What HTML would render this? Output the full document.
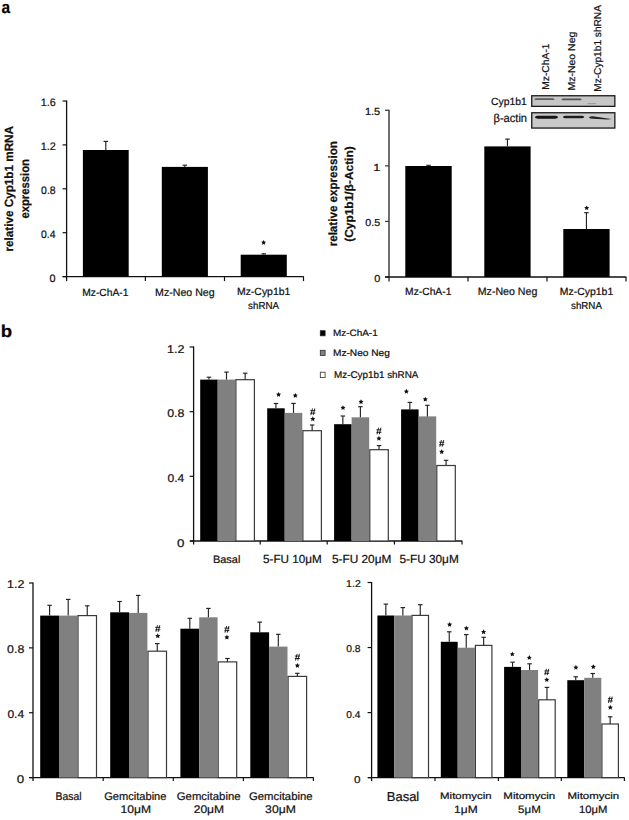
<!DOCTYPE html>
<html><head><meta charset="utf-8"><title>Figure</title>
<style>
html,body{margin:0;padding:0;background:#fff;}
body{width:629px;height:820px;overflow:hidden;}
svg{display:block;font-family:"Liberation Sans", sans-serif;}
text{stroke:#111;stroke-width:0.22px;text-rendering:geometricPrecision;}
</style></head>
<body>
<svg width="629" height="820" viewBox="0 0 629 820">
<defs><filter id="blur1" x="-20%" y="-50%" width="140%" height="200%"><feGaussianBlur stdDeviation="0.6"/></filter></defs>
<rect width="629" height="820" fill="#fff"/>
<text x="1.53" y="12.7" font-size="17.2" font-weight="bold" textLength="8.63" lengthAdjust="spacingAndGlyphs" fill="#000">a</text>
<text x="0.69" y="336.6" font-size="17.2" font-weight="bold" textLength="11.37" lengthAdjust="spacingAndGlyphs" fill="#000">b</text>
<g>
<line x1="66.6" y1="100.5" x2="66.6" y2="281.1" stroke="#111" stroke-width="1.3"/>
<line x1="62.6" y1="101" x2="66.6" y2="101" stroke="#111" stroke-width="1.2"/>
<line x1="62.6" y1="144.9" x2="66.6" y2="144.9" stroke="#111" stroke-width="1.2"/>
<line x1="62.6" y1="188.8" x2="66.6" y2="188.8" stroke="#111" stroke-width="1.2"/>
<line x1="62.6" y1="232.7" x2="66.6" y2="232.7" stroke="#111" stroke-width="1.2"/>
<line x1="62.6" y1="276.6" x2="66.6" y2="276.6" stroke="#111" stroke-width="1.2"/>
<line x1="62.6" y1="276.6" x2="303.8" y2="276.6" stroke="#111" stroke-width="1.3"/>
<line x1="145.4" y1="276.6" x2="145.4" y2="281.1" stroke="#111" stroke-width="1.2"/>
<line x1="224.5" y1="276.6" x2="224.5" y2="281.1" stroke="#111" stroke-width="1.2"/>
<line x1="303.5" y1="276.6" x2="303.5" y2="281.1" stroke="#111" stroke-width="1.2"/>
<rect x="82.9" y="150" width="45.8" height="126.6" fill="#000"/>
<line x1="105.8" y1="141.4" x2="105.8" y2="150" stroke="#222" stroke-width="1.15"/>
<line x1="103.55" y1="141.4" x2="108.05" y2="141.4" stroke="#222" stroke-width="1.15"/>
<rect x="161.8" y="166.9" width="46.1" height="109.7" fill="#000"/>
<line x1="184.85" y1="165.2" x2="184.85" y2="166.9" stroke="#222" stroke-width="1.15"/>
<line x1="182.6" y1="165.2" x2="187.1" y2="165.2" stroke="#222" stroke-width="1.15"/>
<rect x="240.7" y="254.7" width="46.1" height="21.9" fill="#000"/>
<line x1="263.75" y1="253.8" x2="263.75" y2="254.7" stroke="#222" stroke-width="1.15"/>
<line x1="261.5" y1="253.8" x2="266" y2="253.8" stroke="#222" stroke-width="1.15"/>
<polygon points="263.6,240 264.36,241.55 266.07,241.8 264.84,243 265.13,244.7 263.6,243.9 262.07,244.7 262.36,243 261.13,241.8 262.84,241.55" fill="#111"/>
<text x="40.69" y="106" font-size="10.9" font-weight="normal" textLength="14.94" lengthAdjust="spacingAndGlyphs" fill="#111">1.6</text>
<text x="40.69" y="149.9" font-size="10.9" font-weight="normal" textLength="15.06" lengthAdjust="spacingAndGlyphs" fill="#111">1.2</text>
<text x="41.08" y="193.8" font-size="10.9" font-weight="normal" textLength="14.54" lengthAdjust="spacingAndGlyphs" fill="#111">0.8</text>
<text x="41.08" y="237.7" font-size="10.9" font-weight="normal" textLength="14.43" lengthAdjust="spacingAndGlyphs" fill="#111">0.4</text>
<text x="49.57" y="281.6" font-size="10.9" font-weight="normal" textLength="6.03" lengthAdjust="spacingAndGlyphs" fill="#111">0</text>
<text x="82.18" y="295.5" font-size="10.38" font-weight="normal" textLength="46.29" lengthAdjust="spacingAndGlyphs" fill="#111">Mz-ChA-1</text>
<text x="155.05" y="295.7" font-size="10.91" font-weight="normal" textLength="59.57" lengthAdjust="spacingAndGlyphs" fill="#111">Mz-Neo Neg</text>
<text x="236.97" y="295.4" font-size="10.38" font-weight="normal" textLength="53.33" lengthAdjust="spacingAndGlyphs" fill="#111">Mz-Cyp1b1</text>
<text x="248.11" y="309.2" font-size="10.09" font-weight="normal" textLength="30.92" lengthAdjust="spacingAndGlyphs" fill="#111">shRNA</text>
<text transform="translate(12.8,250.7) rotate(-90)" x="-0.76" y="0" font-size="12" font-weight="bold" textLength="125.47" lengthAdjust="spacingAndGlyphs" fill="#111">relative Cyp1b1 mRNA</text>
<text transform="translate(29,218.1) rotate(-90)" x="-0.45" y="0" font-size="12.2" font-weight="bold" textLength="59.43" lengthAdjust="spacingAndGlyphs" fill="#111">expression</text>
</g>
<line x1="389" y1="109.8" x2="389" y2="281.5" stroke="#333" stroke-width="1.4"/>
<line x1="385" y1="110.3" x2="389" y2="110.3" stroke="#333" stroke-width="1.2"/>
<line x1="385" y1="165.87" x2="389" y2="165.87" stroke="#333" stroke-width="1.2"/>
<line x1="385" y1="221.43" x2="389" y2="221.43" stroke="#333" stroke-width="1.2"/>
<line x1="385" y1="277" x2="389" y2="277" stroke="#333" stroke-width="1.2"/>
<line x1="385" y1="277" x2="626.3" y2="277" stroke="#111" stroke-width="1.3"/>
<line x1="468" y1="277" x2="468" y2="281.5" stroke="#111" stroke-width="1.2"/>
<line x1="547" y1="277" x2="547" y2="281.5" stroke="#111" stroke-width="1.2"/>
<line x1="626" y1="277" x2="626" y2="281.5" stroke="#111" stroke-width="1.2"/>
<rect x="405.3" y="166" width="46.4" height="111" fill="#000"/>
<line x1="428.5" y1="165.3" x2="428.5" y2="166" stroke="#222" stroke-width="1.15"/>
<line x1="426.25" y1="165.3" x2="430.75" y2="165.3" stroke="#222" stroke-width="1.15"/>
<rect x="484.3" y="146.4" width="46.3" height="130.6" fill="#000"/>
<line x1="507.45" y1="139.1" x2="507.45" y2="146.4" stroke="#222" stroke-width="1.15"/>
<line x1="505.2" y1="139.1" x2="509.7" y2="139.1" stroke="#222" stroke-width="1.15"/>
<rect x="563.3" y="229" width="46.3" height="48" fill="#000"/>
<line x1="586.45" y1="212.7" x2="586.45" y2="229" stroke="#222" stroke-width="1.15"/>
<line x1="584.2" y1="212.7" x2="588.7" y2="212.7" stroke="#222" stroke-width="1.15"/>
<polygon points="586.7,205.4 587.46,206.95 589.17,207.2 587.94,208.4 588.23,210.1 586.7,209.3 585.17,210.1 585.46,208.4 584.23,207.2 585.94,206.95" fill="#111"/>
<text x="364.98" y="115.2" font-size="10.29" font-weight="normal" textLength="15.26" lengthAdjust="spacingAndGlyphs" fill="#111">1.5</text>
<text x="373.35" y="170.77" font-size="10.29" font-weight="normal" textLength="7.03" lengthAdjust="spacingAndGlyphs" fill="#111">1</text>
<text x="365.37" y="226.33" font-size="10.15" font-weight="normal" textLength="14.86" lengthAdjust="spacingAndGlyphs" fill="#111">0.5</text>
<text x="374.17" y="281.9" font-size="10.15" font-weight="normal" textLength="6.03" lengthAdjust="spacingAndGlyphs" fill="#111">0</text>
<text x="405.08" y="294.8" font-size="10.38" font-weight="normal" textLength="46.29" lengthAdjust="spacingAndGlyphs" fill="#111">Mz-ChA-1</text>
<text x="477.75" y="295" font-size="10.91" font-weight="normal" textLength="59.57" lengthAdjust="spacingAndGlyphs" fill="#111">Mz-Neo Neg</text>
<text x="559.87" y="294.7" font-size="10.38" font-weight="normal" textLength="53.33" lengthAdjust="spacingAndGlyphs" fill="#111">Mz-Cyp1b1</text>
<text x="571.01" y="308.5" font-size="10.09" font-weight="normal" textLength="30.92" lengthAdjust="spacingAndGlyphs" fill="#111">shRNA</text>
<text transform="translate(336.6,245.6) rotate(-90)" x="-0.76" y="0" font-size="12" font-weight="bold" textLength="105.26" lengthAdjust="spacingAndGlyphs" fill="#111">relative expression</text>
<text transform="translate(352.6,241.2) rotate(-90)" x="-0.6" y="0" font-size="11.6" font-weight="bold" textLength="95.49" lengthAdjust="spacingAndGlyphs" fill="#111">(Cyp1b1/β-Actin)</text>
<rect x="531.75" y="95.75" width="83.1" height="10.6" fill="#c6c6c6" stroke="#1a1a1a" stroke-width="1.3"/>
<rect x="531.75" y="112.75" width="83.1" height="15.3" fill="#c9c9c9" stroke="#1a1a1a" stroke-width="1.3"/>
<g filter="url(#blur1)">
<path d="M534.3,99.2 Q534.9,98.35 536.3,98.35 L552.6,98.35 Q554,98.35 554.6,99.2 Q554,100.05 552.6,100.05 L536.3,100.05 Q534.9,100.05 534.3,99.2 Z" fill="#5c5c5c"/>
<path d="M561.4,99.4 Q562,98.45 563.4,98.45 L579.7,98.45 Q581.1,98.45 581.7,99.4 Q581.1,100.35 579.7,100.35 L563.4,100.35 Q562,100.35 561.4,99.4 Z" fill="#525252"/>
<path d="M586.8,103.6 Q587.4,103 588.8,103 L594.6,103 Q596,103 596.6,103.6 Q596,104.2 594.6,104.2 L588.8,104.2 Q587.4,104.2 586.8,103.6 Z" fill="#9c9c9c"/>
<path d="M534.8,117.2 Q535.7,115.75 537.8,115.75 L555.2,115.75 Q557.3,115.75 558.2,117.2 Q557.3,118.65 555.2,118.65 L537.8,118.65 Q535.7,118.65 534.8,117.2 Z" fill="#151515"/>
<path d="M562.8,117 Q563.7,115.65 565.8,115.65 L581.4,115.65 Q583.5,115.65 584.4,117 Q583.5,118.35 581.4,118.35 L565.8,118.35 Q563.7,118.35 562.8,117 Z" fill="#1a1a1a"/>
<path d="M588.8,117.5 Q590,116.2 592.8,116.2 L607.6,118.6 Q610.4,118.6 611.6,119 Q610.4,119.4 607.6,119.4 L592.8,118.8 Q590,118.8 588.8,117.5 Z" fill="#202020"/>
</g>
<text x="491.08" y="104.5" font-size="10.38" font-weight="normal" textLength="35.7" lengthAdjust="spacingAndGlyphs" fill="#111">Cyp1b1</text>
<text x="493.52" y="121.5" font-size="11.74" font-weight="normal" textLength="33.5" lengthAdjust="spacingAndGlyphs" fill="#111">β-actin</text>
<text transform="translate(548.5,89) rotate(-90)" x="-0.82" y="0" font-size="10" font-weight="normal" textLength="46.4" lengthAdjust="spacingAndGlyphs" fill="#111">Mz-ChA-1</text>
<text transform="translate(575,89.7) rotate(-90)" x="-0.84" y="0" font-size="10" font-weight="normal" textLength="58.85" lengthAdjust="spacingAndGlyphs" fill="#111">Mz-Neo Neg</text>
<text transform="translate(601.4,91) rotate(-90)" x="-0.81" y="0" font-size="10" font-weight="normal" textLength="86.74" lengthAdjust="spacingAndGlyphs" fill="#111">Mz-Cyp1b1 shRNA</text>
<line x1="193.6" y1="346.5" x2="193.6" y2="544.5" stroke="#111" stroke-width="1.3"/>
<line x1="189.6" y1="347" x2="193.6" y2="347" stroke="#111" stroke-width="1.2"/>
<line x1="189.6" y1="411.67" x2="193.6" y2="411.67" stroke="#111" stroke-width="1.2"/>
<line x1="189.6" y1="476.33" x2="193.6" y2="476.33" stroke="#111" stroke-width="1.2"/>
<line x1="189.6" y1="541" x2="193.6" y2="541" stroke="#111" stroke-width="1.2"/>
<line x1="190.1" y1="541" x2="462.2" y2="541" stroke="#111" stroke-width="1.3"/>
<line x1="260.2" y1="541" x2="260.2" y2="544.5" stroke="#111" stroke-width="1.2"/>
<line x1="327.2" y1="541" x2="327.2" y2="544.5" stroke="#111" stroke-width="1.2"/>
<line x1="394.4" y1="541" x2="394.4" y2="544.5" stroke="#111" stroke-width="1.2"/>
<line x1="462" y1="541" x2="462" y2="544.5" stroke="#111" stroke-width="1.2"/>
<rect x="200.2" y="379.6" width="17.5" height="161.4" fill="#000"/>
<line x1="208.95" y1="377.2" x2="208.95" y2="379.6" stroke="#222" stroke-width="1.15"/>
<line x1="206.7" y1="377.2" x2="211.2" y2="377.2" stroke="#222" stroke-width="1.15"/>
<rect x="217.7" y="379.6" width="17.6" height="161.4" fill="#808080"/>
<line x1="226.5" y1="372.1" x2="226.5" y2="379.6" stroke="#222" stroke-width="1.15"/>
<line x1="224.25" y1="372.1" x2="228.75" y2="372.1" stroke="#222" stroke-width="1.15"/>
<rect x="235.9" y="379.7" width="18.5" height="161.3" fill="#fff" stroke="#3a3a3a" stroke-width="1.2"/>
<line x1="245.15" y1="373.2" x2="245.15" y2="379.6" stroke="#222" stroke-width="1.15"/>
<line x1="242.9" y1="373.2" x2="247.4" y2="373.2" stroke="#222" stroke-width="1.15"/>
<rect x="267.2" y="408.3" width="17.5" height="132.7" fill="#000"/>
<line x1="275.95" y1="403.5" x2="275.95" y2="408.3" stroke="#222" stroke-width="1.15"/>
<line x1="273.7" y1="403.5" x2="278.2" y2="403.5" stroke="#222" stroke-width="1.15"/>
<polygon points="278.6,391.95 279.38,393.53 281.12,393.78 279.86,395.01 280.16,396.74 278.6,395.93 277.04,396.74 277.34,395.01 276.08,393.78 277.82,393.53" fill="#111"/>
<rect x="284.7" y="412.9" width="17.6" height="128.1" fill="#808080"/>
<line x1="293.5" y1="403.4" x2="293.5" y2="412.9" stroke="#222" stroke-width="1.15"/>
<line x1="291.25" y1="403.4" x2="295.75" y2="403.4" stroke="#222" stroke-width="1.15"/>
<polygon points="295.3,392.95 296.08,394.53 297.82,394.78 296.56,396.01 296.86,397.74 295.3,396.93 293.74,397.74 294.04,396.01 292.78,394.78 294.52,394.53" fill="#111"/>
<rect x="302.9" y="430.7" width="18.5" height="110.3" fill="#fff" stroke="#3a3a3a" stroke-width="1.2"/>
<line x1="312.15" y1="425" x2="312.15" y2="430.6" stroke="#222" stroke-width="1.15"/>
<line x1="309.9" y1="425" x2="314.4" y2="425" stroke="#222" stroke-width="1.15"/>
<polygon points="312.8,416.35 313.58,417.93 315.32,418.18 314.06,419.41 314.36,421.14 312.8,420.32 311.24,421.14 311.54,419.41 310.28,418.18 312.02,417.93" fill="#111"/>
<path d="M312.5,408.47L310.9,415.13M314.8,408.47L313.2,415.13M310.28,410.67L315.32,410.67M310.28,413.13L315.32,413.13" stroke="#111" stroke-width="0.9" fill="none"/>
<rect x="334.1" y="424.2" width="17.5" height="116.8" fill="#000"/>
<line x1="342.85" y1="416" x2="342.85" y2="424.2" stroke="#222" stroke-width="1.15"/>
<line x1="340.6" y1="416" x2="345.1" y2="416" stroke="#222" stroke-width="1.15"/>
<polygon points="343,405.15 343.78,406.73 345.52,406.98 344.26,408.21 344.56,409.94 343,409.12 341.44,409.94 341.74,408.21 340.48,406.98 342.22,406.73" fill="#111"/>
<rect x="351.6" y="417.3" width="17.6" height="123.7" fill="#808080"/>
<line x1="360.4" y1="406.7" x2="360.4" y2="417.3" stroke="#222" stroke-width="1.15"/>
<line x1="358.15" y1="406.7" x2="362.65" y2="406.7" stroke="#222" stroke-width="1.15"/>
<polygon points="361,399.25 361.78,400.83 363.52,401.08 362.26,402.31 362.56,404.04 361,403.22 359.44,404.04 359.74,402.31 358.48,401.08 360.22,400.83" fill="#111"/>
<rect x="369.8" y="449.7" width="18.5" height="91.3" fill="#fff" stroke="#3a3a3a" stroke-width="1.2"/>
<line x1="379.05" y1="445.6" x2="379.05" y2="449.6" stroke="#222" stroke-width="1.15"/>
<line x1="376.8" y1="445.6" x2="381.3" y2="445.6" stroke="#222" stroke-width="1.15"/>
<polygon points="378.9,435.85 379.68,437.43 381.42,437.68 380.16,438.91 380.46,440.64 378.9,439.82 377.34,440.64 377.64,438.91 376.38,437.68 378.12,437.43" fill="#111"/>
<path d="M378.6,427.67L377,434.33M380.9,427.67L379.3,434.33M376.38,429.87L381.42,429.87M376.38,432.33L381.42,432.33" stroke="#111" stroke-width="0.9" fill="none"/>
<rect x="401.1" y="409.4" width="17.5" height="131.6" fill="#000"/>
<line x1="409.85" y1="402.4" x2="409.85" y2="409.4" stroke="#222" stroke-width="1.15"/>
<line x1="407.6" y1="402.4" x2="412.1" y2="402.4" stroke="#222" stroke-width="1.15"/>
<polygon points="406.4,388.85 407.18,390.43 408.92,390.68 407.66,391.91 407.96,393.64 406.4,392.82 404.84,393.64 405.14,391.91 403.88,390.68 405.62,390.43" fill="#111"/>
<rect x="418.6" y="416.4" width="17.6" height="124.6" fill="#808080"/>
<line x1="427.4" y1="405.3" x2="427.4" y2="416.4" stroke="#222" stroke-width="1.15"/>
<line x1="425.15" y1="405.3" x2="429.65" y2="405.3" stroke="#222" stroke-width="1.15"/>
<polygon points="425.3,396.75 426.08,398.33 427.82,398.58 426.56,399.81 426.86,401.54 425.3,400.72 423.74,401.54 424.04,399.81 422.78,398.58 424.52,398.33" fill="#111"/>
<rect x="436.8" y="465.5" width="18.5" height="75.5" fill="#fff" stroke="#3a3a3a" stroke-width="1.2"/>
<line x1="446.05" y1="460.3" x2="446.05" y2="465.4" stroke="#222" stroke-width="1.15"/>
<line x1="443.8" y1="460.3" x2="448.3" y2="460.3" stroke="#222" stroke-width="1.15"/>
<polygon points="441.7,449.25 442.48,450.83 444.22,451.08 442.96,452.31 443.26,454.04 441.7,453.22 440.14,454.04 440.44,452.31 439.18,451.08 440.92,450.83" fill="#111"/>
<path d="M441.4,440.07L439.8,446.73M443.7,440.07L442.1,446.73M439.18,442.27L444.22,442.27M439.18,444.73L444.22,444.73" stroke="#111" stroke-width="0.9" fill="none"/>
<text x="167.06" y="352.5" font-size="11.29" font-weight="normal" textLength="17.47" lengthAdjust="spacingAndGlyphs" fill="#111">1.2</text>
<text x="167.21" y="417.17" font-size="11.29" font-weight="normal" textLength="17.19" lengthAdjust="spacingAndGlyphs" fill="#111">0.8</text>
<text x="167.52" y="481.83" font-size="11.29" font-weight="normal" textLength="16.75" lengthAdjust="spacingAndGlyphs" fill="#111">0.4</text>
<text x="176.97" y="546.5" font-size="11.29" font-weight="normal" textLength="7.42" lengthAdjust="spacingAndGlyphs" fill="#111">0</text>
<text x="213.03" y="562.7" font-size="10.82" font-weight="normal" textLength="27.3" lengthAdjust="spacingAndGlyphs" fill="#111">Basal</text>
<text x="263.03" y="562.9" font-size="11.68" font-weight="normal" textLength="58.62" lengthAdjust="spacingAndGlyphs" fill="#111">5-FU 10μM</text>
<text x="331.93" y="562.9" font-size="11.68" font-weight="normal" textLength="59.44" lengthAdjust="spacingAndGlyphs" fill="#111">5-FU 20μM</text>
<text x="399.43" y="562.9" font-size="11.68" font-weight="normal" textLength="59.34" lengthAdjust="spacingAndGlyphs" fill="#111">5-FU 30μM</text>
<rect x="320.3" y="330.7" width="4.8" height="5.1" fill="#000" stroke="#222" stroke-width="0.8"/>
<rect x="320.3" y="350.3" width="4.8" height="5.2" fill="#808080" stroke="#333" stroke-width="0.8"/>
<rect x="320.3" y="372.2" width="4.8" height="5.4" fill="#fff" stroke="#333" stroke-width="0.8"/>
<text x="333.01" y="336.1" font-size="9.21" font-weight="normal" textLength="44.65" lengthAdjust="spacingAndGlyphs" fill="#111">Mz-ChA-1</text>
<text x="332.99" y="355.5" font-size="9.37" font-weight="normal" textLength="56.9" lengthAdjust="spacingAndGlyphs" fill="#111">Mz-Neo Neg</text>
<text x="334.01" y="377.5" font-size="9.8" font-weight="normal" textLength="84.42" lengthAdjust="spacingAndGlyphs" fill="#111">Mz-Cyp1b1 shRNA</text>
<line x1="33" y1="582.5" x2="33" y2="781.1" stroke="#111" stroke-width="1.3"/>
<line x1="29" y1="583" x2="33" y2="583" stroke="#111" stroke-width="1.2"/>
<line x1="29" y1="647.87" x2="33" y2="647.87" stroke="#111" stroke-width="1.2"/>
<line x1="29" y1="712.73" x2="33" y2="712.73" stroke="#111" stroke-width="1.2"/>
<line x1="29" y1="777.6" x2="33" y2="777.6" stroke="#111" stroke-width="1.2"/>
<line x1="29.5" y1="777.6" x2="313.6" y2="777.6" stroke="#111" stroke-width="1.3"/>
<line x1="103.2" y1="777.6" x2="103.2" y2="781.1" stroke="#111" stroke-width="1.2"/>
<line x1="173.3" y1="777.6" x2="173.3" y2="781.1" stroke="#111" stroke-width="1.2"/>
<line x1="243.4" y1="777.6" x2="243.4" y2="781.1" stroke="#111" stroke-width="1.2"/>
<line x1="313.4" y1="777.6" x2="313.4" y2="781.1" stroke="#111" stroke-width="1.2"/>
<rect x="40.2" y="615.6" width="18.8" height="162" fill="#000"/>
<line x1="49.6" y1="605.3" x2="49.6" y2="615.6" stroke="#222" stroke-width="1.15"/>
<line x1="47.35" y1="605.3" x2="51.85" y2="605.3" stroke="#222" stroke-width="1.15"/>
<rect x="59" y="615.6" width="18.4" height="162" fill="#808080"/>
<line x1="68.2" y1="599.4" x2="68.2" y2="615.6" stroke="#222" stroke-width="1.15"/>
<line x1="65.95" y1="599.4" x2="70.45" y2="599.4" stroke="#222" stroke-width="1.15"/>
<rect x="78" y="615.6" width="18.5" height="162" fill="#fff" stroke="#3a3a3a" stroke-width="1.2"/>
<line x1="87.25" y1="605.8" x2="87.25" y2="615.5" stroke="#222" stroke-width="1.15"/>
<line x1="85" y1="605.8" x2="89.5" y2="605.8" stroke="#222" stroke-width="1.15"/>
<rect x="110.2" y="612.3" width="18.8" height="165.3" fill="#000"/>
<line x1="119.6" y1="601.5" x2="119.6" y2="612.3" stroke="#222" stroke-width="1.15"/>
<line x1="117.35" y1="601.5" x2="121.85" y2="601.5" stroke="#222" stroke-width="1.15"/>
<rect x="129" y="612.9" width="18.4" height="164.7" fill="#808080"/>
<line x1="138.2" y1="595.4" x2="138.2" y2="612.9" stroke="#222" stroke-width="1.15"/>
<line x1="135.95" y1="595.4" x2="140.45" y2="595.4" stroke="#222" stroke-width="1.15"/>
<rect x="148" y="651.2" width="18.5" height="126.4" fill="#fff" stroke="#3a3a3a" stroke-width="1.2"/>
<line x1="157.25" y1="643.6" x2="157.25" y2="651.1" stroke="#222" stroke-width="1.15"/>
<line x1="155" y1="643.6" x2="159.5" y2="643.6" stroke="#222" stroke-width="1.15"/>
<polygon points="157.8,633.35 158.58,634.93 160.32,635.18 159.06,636.41 159.36,638.14 157.8,637.33 156.24,638.14 156.54,636.41 155.28,635.18 157.02,634.93" fill="#111"/>
<path d="M157.5,625.17L155.9,631.83M159.8,625.17L158.2,631.83M155.28,627.37L160.32,627.37M155.28,629.83L160.32,629.83" stroke="#111" stroke-width="0.9" fill="none"/>
<rect x="180.4" y="628.7" width="18.8" height="148.9" fill="#000"/>
<line x1="189.8" y1="618.3" x2="189.8" y2="628.7" stroke="#222" stroke-width="1.15"/>
<line x1="187.55" y1="618.3" x2="192.05" y2="618.3" stroke="#222" stroke-width="1.15"/>
<rect x="199.2" y="617.3" width="18.4" height="160.3" fill="#808080"/>
<line x1="208.4" y1="608.4" x2="208.4" y2="617.3" stroke="#222" stroke-width="1.15"/>
<line x1="206.15" y1="608.4" x2="210.65" y2="608.4" stroke="#222" stroke-width="1.15"/>
<rect x="218.2" y="661.9" width="18.5" height="115.7" fill="#fff" stroke="#3a3a3a" stroke-width="1.2"/>
<line x1="227.45" y1="658.5" x2="227.45" y2="661.8" stroke="#222" stroke-width="1.15"/>
<line x1="225.2" y1="658.5" x2="229.7" y2="658.5" stroke="#222" stroke-width="1.15"/>
<polygon points="226.9,634.75 227.68,636.33 229.42,636.58 228.16,637.81 228.46,639.54 226.9,638.73 225.34,639.54 225.64,637.81 224.38,636.58 226.12,636.33" fill="#111"/>
<path d="M226.6,625.97L225,632.63M228.9,625.97L227.3,632.63M224.38,628.17L229.42,628.17M224.38,630.63L229.42,630.63" stroke="#111" stroke-width="0.9" fill="none"/>
<rect x="250.3" y="632.3" width="18.8" height="145.3" fill="#000"/>
<line x1="259.7" y1="622.1" x2="259.7" y2="632.3" stroke="#222" stroke-width="1.15"/>
<line x1="257.45" y1="622.1" x2="261.95" y2="622.1" stroke="#222" stroke-width="1.15"/>
<rect x="269.1" y="646.6" width="18.4" height="131" fill="#808080"/>
<line x1="278.3" y1="634.3" x2="278.3" y2="646.6" stroke="#222" stroke-width="1.15"/>
<line x1="276.05" y1="634.3" x2="280.55" y2="634.3" stroke="#222" stroke-width="1.15"/>
<rect x="288.1" y="676.4" width="18.5" height="101.2" fill="#fff" stroke="#3a3a3a" stroke-width="1.2"/>
<line x1="297.35" y1="673.3" x2="297.35" y2="676.3" stroke="#222" stroke-width="1.15"/>
<line x1="295.1" y1="673.3" x2="299.6" y2="673.3" stroke="#222" stroke-width="1.15"/>
<polygon points="297.4,662.95 298.18,664.53 299.92,664.78 298.66,666.01 298.96,667.74 297.4,666.93 295.84,667.74 296.14,666.01 294.88,664.78 296.62,664.53" fill="#111"/>
<path d="M297.1,653.87L295.5,660.53M299.4,653.87L297.8,660.53M294.88,656.07L299.92,656.07M294.88,658.53L299.92,658.53" stroke="#111" stroke-width="0.9" fill="none"/>
<text x="7.06" y="588.3" font-size="11.29" font-weight="normal" textLength="17.36" lengthAdjust="spacingAndGlyphs" fill="#111">1.2</text>
<text x="7.11" y="653.17" font-size="11.29" font-weight="normal" textLength="17.19" lengthAdjust="spacingAndGlyphs" fill="#111">0.8</text>
<text x="7.42" y="718.03" font-size="11.29" font-weight="normal" textLength="16.75" lengthAdjust="spacingAndGlyphs" fill="#111">0.4</text>
<text x="16.87" y="782.9" font-size="11.29" font-weight="normal" textLength="7.42" lengthAdjust="spacingAndGlyphs" fill="#111">0</text>
<text x="55.47" y="799.6" font-size="11.11" font-weight="normal" textLength="26.02" lengthAdjust="spacingAndGlyphs" fill="#111">Basal</text>
<text x="104.14" y="799.6" font-size="11.11" font-weight="normal" textLength="62.34" lengthAdjust="spacingAndGlyphs" fill="#111">Gemcitabine</text>
<text x="120.49" y="813.4" font-size="11.06" font-weight="normal" textLength="30.49" lengthAdjust="spacingAndGlyphs" fill="#111">10μM</text>
<text x="176.73" y="799.6" font-size="11.11" font-weight="normal" textLength="63.87" lengthAdjust="spacingAndGlyphs" fill="#111">Gemcitabine</text>
<text x="193.7" y="813.4" font-size="11.06" font-weight="normal" textLength="30.39" lengthAdjust="spacingAndGlyphs" fill="#111">20μM</text>
<text x="248.93" y="799.6" font-size="11.11" font-weight="normal" textLength="63.66" lengthAdjust="spacingAndGlyphs" fill="#111">Gemcitabine</text>
<text x="265.11" y="813.4" font-size="11.06" font-weight="normal" textLength="30.68" lengthAdjust="spacingAndGlyphs" fill="#111">30μM</text>
<line x1="371.6" y1="582" x2="371.6" y2="781.1" stroke="#111" stroke-width="1.3"/>
<line x1="367.6" y1="582.5" x2="371.6" y2="582.5" stroke="#111" stroke-width="1.2"/>
<line x1="367.6" y1="647.53" x2="371.6" y2="647.53" stroke="#111" stroke-width="1.2"/>
<line x1="367.6" y1="712.57" x2="371.6" y2="712.57" stroke="#111" stroke-width="1.2"/>
<line x1="367.6" y1="777.6" x2="371.6" y2="777.6" stroke="#111" stroke-width="1.2"/>
<line x1="368.1" y1="777.6" x2="624.6" y2="777.6" stroke="#111" stroke-width="1.3"/>
<line x1="435" y1="777.6" x2="435" y2="781.1" stroke="#111" stroke-width="1.2"/>
<line x1="498.4" y1="777.6" x2="498.4" y2="781.1" stroke="#111" stroke-width="1.2"/>
<line x1="561.3" y1="777.6" x2="561.3" y2="781.1" stroke="#111" stroke-width="1.2"/>
<line x1="624.4" y1="777.6" x2="624.4" y2="781.1" stroke="#111" stroke-width="1.2"/>
<rect x="377.4" y="615.5" width="16.9" height="162.1" fill="#000"/>
<line x1="385.85" y1="604.1" x2="385.85" y2="615.5" stroke="#222" stroke-width="1.15"/>
<line x1="383.6" y1="604.1" x2="388.1" y2="604.1" stroke="#222" stroke-width="1.15"/>
<rect x="394.3" y="615.5" width="17.1" height="162.1" fill="#808080"/>
<line x1="402.85" y1="607.6" x2="402.85" y2="615.5" stroke="#222" stroke-width="1.15"/>
<line x1="400.6" y1="607.6" x2="405.1" y2="607.6" stroke="#222" stroke-width="1.15"/>
<rect x="412" y="615.4" width="16.5" height="162.2" fill="#fff" stroke="#3a3a3a" stroke-width="1.2"/>
<line x1="420.25" y1="604.7" x2="420.25" y2="615.3" stroke="#222" stroke-width="1.15"/>
<line x1="418" y1="604.7" x2="422.5" y2="604.7" stroke="#222" stroke-width="1.15"/>
<rect x="440.8" y="641.8" width="16.9" height="135.8" fill="#000"/>
<line x1="449.25" y1="631.8" x2="449.25" y2="641.8" stroke="#222" stroke-width="1.15"/>
<line x1="447" y1="631.8" x2="451.5" y2="631.8" stroke="#222" stroke-width="1.15"/>
<polygon points="449.6,621.95 450.38,623.53 452.12,623.78 450.86,625.01 451.16,626.74 449.6,625.93 448.04,626.74 448.34,625.01 447.08,623.78 448.82,623.53" fill="#111"/>
<rect x="457.7" y="647.7" width="17.1" height="129.9" fill="#808080"/>
<line x1="466.25" y1="634.6" x2="466.25" y2="647.7" stroke="#222" stroke-width="1.15"/>
<line x1="464" y1="634.6" x2="468.5" y2="634.6" stroke="#222" stroke-width="1.15"/>
<polygon points="466.4,625.65 467.18,627.23 468.92,627.48 467.66,628.71 467.96,630.44 466.4,629.62 464.84,630.44 465.14,628.71 463.88,627.48 465.62,627.23" fill="#111"/>
<rect x="475.4" y="645.4" width="16.5" height="132.2" fill="#fff" stroke="#3a3a3a" stroke-width="1.2"/>
<line x1="483.65" y1="637.3" x2="483.65" y2="645.3" stroke="#222" stroke-width="1.15"/>
<line x1="481.4" y1="637.3" x2="485.9" y2="637.3" stroke="#222" stroke-width="1.15"/>
<polygon points="483.6,629.35 484.38,630.93 486.12,631.18 484.86,632.41 485.16,634.14 483.6,633.33 482.04,634.14 482.34,632.41 481.08,631.18 482.82,630.93" fill="#111"/>
<rect x="504.1" y="666.9" width="16.9" height="110.7" fill="#000"/>
<line x1="512.55" y1="662.2" x2="512.55" y2="666.9" stroke="#222" stroke-width="1.15"/>
<line x1="510.3" y1="662.2" x2="514.8" y2="662.2" stroke="#222" stroke-width="1.15"/>
<polygon points="512.3,651.55 513.08,653.13 514.82,653.38 513.56,654.61 513.86,656.34 512.3,655.53 510.74,656.34 511.04,654.61 509.78,653.38 511.52,653.13" fill="#111"/>
<rect x="521" y="670" width="17.1" height="107.6" fill="#808080"/>
<line x1="529.55" y1="663.8" x2="529.55" y2="670" stroke="#222" stroke-width="1.15"/>
<line x1="527.3" y1="663.8" x2="531.8" y2="663.8" stroke="#222" stroke-width="1.15"/>
<polygon points="529.3,655.05 530.08,656.63 531.82,656.88 530.56,658.11 530.86,659.84 529.3,659.03 527.74,659.84 528.04,658.11 526.78,656.88 528.52,656.63" fill="#111"/>
<rect x="538.7" y="699.8" width="16.5" height="77.8" fill="#fff" stroke="#3a3a3a" stroke-width="1.2"/>
<line x1="546.95" y1="687.4" x2="546.95" y2="699.7" stroke="#222" stroke-width="1.15"/>
<line x1="544.7" y1="687.4" x2="549.2" y2="687.4" stroke="#222" stroke-width="1.15"/>
<polygon points="546.8,677.15 547.58,678.73 549.32,678.98 548.06,680.21 548.36,681.94 546.8,681.12 545.24,681.94 545.54,680.21 544.28,678.98 546.02,678.73" fill="#111"/>
<path d="M546.46,668.85L544.94,675.15M548.76,668.85L547.24,675.15M544.42,670.93L549.18,670.93M544.42,673.26L549.18,673.26" stroke="#111" stroke-width="0.9" fill="none"/>
<rect x="567.3" y="680.2" width="16.9" height="97.4" fill="#000"/>
<line x1="575.75" y1="676.8" x2="575.75" y2="680.2" stroke="#222" stroke-width="1.15"/>
<line x1="573.5" y1="676.8" x2="578" y2="676.8" stroke="#222" stroke-width="1.15"/>
<polygon points="575.9,664.85 576.68,666.43 578.42,666.68 577.16,667.91 577.46,669.64 575.9,668.83 574.34,669.64 574.64,667.91 573.38,666.68 575.12,666.43" fill="#111"/>
<rect x="584.2" y="677.8" width="17.1" height="99.8" fill="#808080"/>
<line x1="592.75" y1="673.5" x2="592.75" y2="677.8" stroke="#222" stroke-width="1.15"/>
<line x1="590.5" y1="673.5" x2="595" y2="673.5" stroke="#222" stroke-width="1.15"/>
<polygon points="593.3,664.25 594.08,665.83 595.82,666.08 594.56,667.31 594.86,669.04 593.3,668.23 591.74,669.04 592.04,667.31 590.78,666.08 592.52,665.83" fill="#111"/>
<rect x="601.9" y="724" width="16.5" height="53.6" fill="#fff" stroke="#3a3a3a" stroke-width="1.2"/>
<line x1="610.15" y1="716.8" x2="610.15" y2="723.9" stroke="#222" stroke-width="1.15"/>
<line x1="607.9" y1="716.8" x2="612.4" y2="716.8" stroke="#222" stroke-width="1.15"/>
<polygon points="610.3,704.85 611.08,706.43 612.82,706.68 611.56,707.91 611.86,709.64 610.3,708.83 608.74,709.64 609.04,707.91 607.78,706.68 609.52,706.43" fill="#111"/>
<path d="M609.96,696.55L608.44,702.85M612.26,696.55L610.74,702.85M607.92,698.63L612.68,698.63M607.92,700.96L612.68,700.96" stroke="#111" stroke-width="0.9" fill="none"/>
<text x="346.11" y="587.45" font-size="10" font-weight="normal" textLength="14.62" lengthAdjust="spacingAndGlyphs" fill="#111">1.2</text>
<text x="346.29" y="652.48" font-size="10" font-weight="normal" textLength="14.33" lengthAdjust="spacingAndGlyphs" fill="#111">0.8</text>
<text x="346.39" y="717.52" font-size="10" font-weight="normal" textLength="14.11" lengthAdjust="spacingAndGlyphs" fill="#111">0.4</text>
<text x="354.13" y="782.55" font-size="10" font-weight="normal" textLength="6.49" lengthAdjust="spacingAndGlyphs" fill="#111">0</text>
<text x="386.76" y="800.9" font-size="13.01" font-weight="normal" textLength="32.5" lengthAdjust="spacingAndGlyphs" fill="#111">Basal</text>
<text x="440.09" y="799.4" font-size="9.36" font-weight="normal" textLength="51.47" lengthAdjust="spacingAndGlyphs" fill="#111">Mitomycin</text>
<text x="454.1" y="813.4" font-size="10.6" font-weight="normal" textLength="23.52" lengthAdjust="spacingAndGlyphs" fill="#111">1μM</text>
<text x="503.38" y="799.4" font-size="9.36" font-weight="normal" textLength="51.78" lengthAdjust="spacingAndGlyphs" fill="#111">Mitomycin</text>
<text x="518.14" y="813.4" font-size="10.6" font-weight="normal" textLength="22.64" lengthAdjust="spacingAndGlyphs" fill="#111">5μM</text>
<text x="567.58" y="799.4" font-size="9.36" font-weight="normal" textLength="51.57" lengthAdjust="spacingAndGlyphs" fill="#111">Mitomycin</text>
<text x="578.96" y="813.4" font-size="10.6" font-weight="normal" textLength="28.36" lengthAdjust="spacingAndGlyphs" fill="#111">10μM</text>
</svg>
</body></html>
